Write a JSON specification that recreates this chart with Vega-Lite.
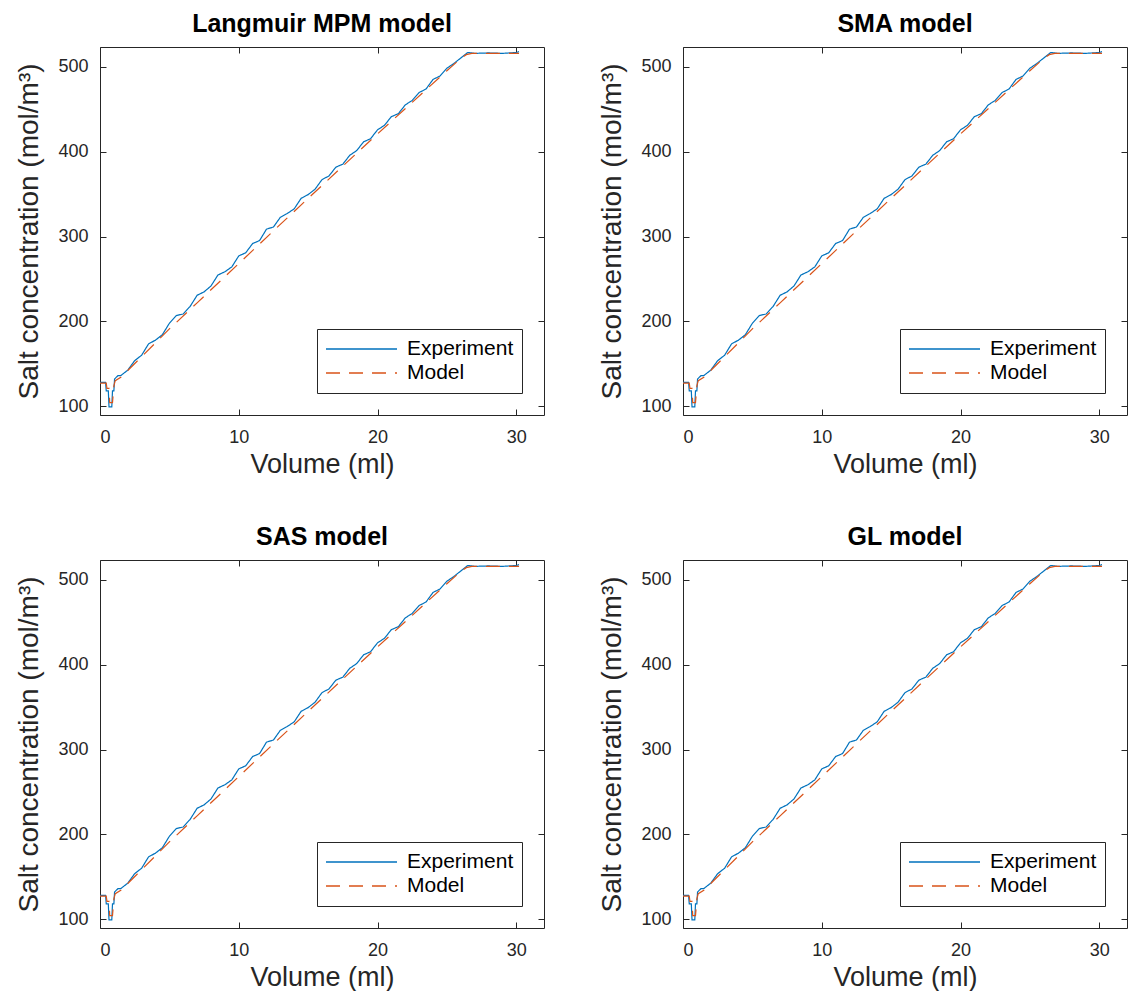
{
  "$schema": "https://vega.github.io/schema/vega-lite/v6.json",
  "padding": {"left": 15, "top": 11, "right": 0, "bottom": 0},
  "background": "white",
  "datasets": {
    "d": [
      {"v": 0, "c": 128, "s": "Experiment"},
      {"v": 0.4, "c": 128, "s": "Experiment"},
      {"v": 0.45, "c": 118, "s": "Experiment"},
      {"v": 0.6, "c": 118, "s": "Experiment"},
      {"v": 0.65, "c": 99, "s": "Experiment"},
      {"v": 0.85, "c": 99, "s": "Experiment"},
      {"v": 0.9, "c": 118, "s": "Experiment"},
      {"v": 1.0, "c": 118, "s": "Experiment"},
      {"v": 1.05, "c": 132, "s": "Experiment"},
      {"v": 1.3, "c": 136, "s": "Experiment"},
      {"v": 1.5, "c": 136, "s": "Experiment"},
      {"v": 2.0, "c": 142.4, "s": "Experiment"},
      {"v": 2.5, "c": 153.6, "s": "Experiment"},
      {"v": 3.0, "c": 160, "s": "Experiment"},
      {"v": 3.5, "c": 173.4, "s": "Experiment"},
      {"v": 4.0, "c": 177.8, "s": "Experiment"},
      {"v": 4.5, "c": 184.3, "s": "Experiment"},
      {"v": 5.0, "c": 197.7, "s": "Experiment"},
      {"v": 5.5, "c": 206.7, "s": "Experiment"},
      {"v": 6.0, "c": 208.7, "s": "Experiment"},
      {"v": 6.5, "c": 217.7, "s": "Experiment"},
      {"v": 7.0, "c": 230.7, "s": "Experiment"},
      {"v": 7.5, "c": 234.7, "s": "Experiment"},
      {"v": 8.0, "c": 241.7, "s": "Experiment"},
      {"v": 8.5, "c": 254.6, "s": "Experiment"},
      {"v": 9.0, "c": 258.4, "s": "Experiment"},
      {"v": 9.5, "c": 264.2, "s": "Experiment"},
      {"v": 10.0, "c": 277.1, "s": "Experiment"},
      {"v": 10.5, "c": 280.8, "s": "Experiment"},
      {"v": 11.0, "c": 291.7, "s": "Experiment"},
      {"v": 11.5, "c": 295.2, "s": "Experiment"},
      {"v": 12.0, "c": 308.7, "s": "Experiment"},
      {"v": 12.5, "c": 311.2, "s": "Experiment"},
      {"v": 13.0, "c": 322.7, "s": "Experiment"},
      {"v": 13.5, "c": 327.2, "s": "Experiment"},
      {"v": 14.0, "c": 332.7, "s": "Experiment"},
      {"v": 14.5, "c": 345.1, "s": "Experiment"},
      {"v": 15.0, "c": 349.4, "s": "Experiment"},
      {"v": 15.5, "c": 355.8, "s": "Experiment"},
      {"v": 16.0, "c": 367.1, "s": "Experiment"},
      {"v": 16.5, "c": 371.4, "s": "Experiment"},
      {"v": 17.0, "c": 381.8, "s": "Experiment"},
      {"v": 17.5, "c": 385.3, "s": "Experiment"},
      {"v": 18.0, "c": 395.8, "s": "Experiment"},
      {"v": 18.5, "c": 401.3, "s": "Experiment"},
      {"v": 19.0, "c": 411.7, "s": "Experiment"},
      {"v": 19.5, "c": 415.3, "s": "Experiment"},
      {"v": 20.0, "c": 425.8, "s": "Experiment"},
      {"v": 20.5, "c": 431.1, "s": "Experiment"},
      {"v": 21.0, "c": 441.4, "s": "Experiment"},
      {"v": 21.5, "c": 444.8, "s": "Experiment"},
      {"v": 22.0, "c": 455.2, "s": "Experiment"},
      {"v": 22.5, "c": 460.5, "s": "Experiment"},
      {"v": 23.0, "c": 469.8, "s": "Experiment"},
      {"v": 23.5, "c": 474.0, "s": "Experiment"},
      {"v": 24.0, "c": 485.2, "s": "Experiment"},
      {"v": 24.5, "c": 489.3, "s": "Experiment"},
      {"v": 25.0, "c": 498.5, "s": "Experiment"},
      {"v": 25.5, "c": 504.0, "s": "Experiment"},
      {"v": 26.0, "c": 510.5, "s": "Experiment"},
      {"v": 26.3, "c": 514.4, "s": "Experiment"},
      {"v": 26.5, "c": 517, "s": "Experiment"},
      {"v": 27.0, "c": 516, "s": "Experiment"},
      {"v": 28.0, "c": 516.5, "s": "Experiment"},
      {"v": 29.0, "c": 516, "s": "Experiment"},
      {"v": 30.0, "c": 517, "s": "Experiment"},
      {"v": 30.2, "c": 518, "s": "Experiment"},
      {"v": 0, "c": 127, "s": "Model"},
      {"v": 0.45, "c": 127, "s": "Model"},
      {"v": 0.5, "c": 121, "s": "Model"},
      {"v": 0.65, "c": 121, "s": "Model"},
      {"v": 0.7, "c": 104, "s": "Model"},
      {"v": 0.9, "c": 104, "s": "Model"},
      {"v": 1.0, "c": 124, "s": "Model"},
      {"v": 1.1, "c": 130, "s": "Model"},
      {"v": 1.5, "c": 134, "s": "Model"},
      {"v": 2.0, "c": 142, "s": "Model"},
      {"v": 3.0, "c": 158.3, "s": "Model"},
      {"v": 5.0, "c": 191, "s": "Model"},
      {"v": 7.0, "c": 221.8, "s": "Model"},
      {"v": 10.0, "c": 268, "s": "Model"},
      {"v": 12.5, "c": 306.7, "s": "Model"},
      {"v": 15.0, "c": 345, "s": "Model"},
      {"v": 17.5, "c": 383, "s": "Model"},
      {"v": 20.0, "c": 421, "s": "Model"},
      {"v": 22.5, "c": 458.2, "s": "Model"},
      {"v": 25.0, "c": 495.5, "s": "Model"},
      {"v": 26.0, "c": 510, "s": "Model"},
      {"v": 26.4, "c": 514.5, "s": "Model"},
      {"v": 26.8, "c": 516, "s": "Model"},
      {"v": 28.0, "c": 516, "s": "Model"},
      {"v": 30.2, "c": 516, "s": "Model"}
    ]
  },
  "config": {
    "font": "Liberation Sans",
    "view": {"stroke": "#262626", "strokeWidth": 1},
    "axis": {
      "domain": false, "grid": false,
      "ticks": true, "tickSize": -6, "tickColor": "#262626", "tickWidth": 1,
      "labelFont": "Liberation Sans", "labelFontSize": 18, "labelColor": "#262626",
      "titleFont": "Liberation Sans", "titleFontWeight": "normal", "titleColor": "#262626"
    },
    "axisX": {"labelPadding": 19, "titlePadding": 5, "titleFontSize": 27},
    "axisY": {"labelPadding": 18, "titlePadding": 14, "titleFontSize": 28},
    "title": {"font": "Liberation Sans", "fontSize": 25, "fontWeight": "bold", "color": "#000000", "anchor": "middle", "offset": 10},
    "legend": {
      "orient": "bottom-right", "offset": 22, "padding": 8,
      "strokeColor": "#262626", "fillColor": "white",
      "symbolType": "stroke", "symbolSize": 5041, "symbolStrokeWidth": 1.3,
      "labelFont": "Liberation Sans", "labelFontSize": 21, "labelColor": "#000000",
      "labelOffset": 9, "clipHeight": 24, "rowPadding": 0
    }
  },
  "spacing": 46,
  "vconcat": [
    {
      "spacing": 53,
      "resolve": {"scale": {"color": "independent", "strokeDash": "independent"}, "legend": {"color": "independent", "strokeDash": "independent"}},
      "hconcat": [
        {
          "title": "Langmuir MPM model", "width": 444, "height": 368, "data": {"name": "d"},
          "layer": [
            {"mark": {"type": "line", "strokeWidth": 1.2},
             "encoding": {
               "x": {"field": "v", "type": "quantitative", "scale": {"domain": [0, 32], "nice": false, "zero": false}, "axis": {"title": "Volume (ml)", "values": [0, 10, 20, 30]}},
               "y": {"field": "c", "type": "quantitative", "scale": {"domain": [89.5, 523.5], "nice": false, "zero": false}, "axis": {"title": "Salt concentration (mol/m³)", "values": [100, 200, 300, 400, 500]}},
               "color": {"field": "s", "type": "nominal", "scale": {"domain": ["Experiment", "Model"], "range": ["#0072BD", "#D95319"]}, "legend": {"title": null, "orient": "bottom-right"}},
               "strokeDash": {"field": "s", "type": "nominal", "scale": {"domain": ["Experiment", "Model"], "range": [[1, 0], [14, 9]]}, "legend": {"title": null, "orient": "bottom-right"}}
             }},
            {"mark": {"type": "point", "opacity": 0},
             "encoding": {
               "x": {"field": "v", "type": "quantitative", "axis": {"orient": "top", "labels": false, "title": null, "values": [0, 10, 20, 30]}},
               "y": {"field": "c", "type": "quantitative", "axis": {"orient": "right", "labels": false, "title": null, "values": [100, 200, 300, 400, 500]}}
             }}
          ],
          "resolve": {"axis": {"x": "independent", "y": "independent"}}
        },
        {
          "title": "SMA model", "width": 444, "height": 368, "data": {"name": "d"},
          "layer": [
            {"mark": {"type": "line", "strokeWidth": 1.2},
             "encoding": {
               "x": {"field": "v", "type": "quantitative", "scale": {"domain": [0, 32], "nice": false, "zero": false}, "axis": {"title": "Volume (ml)", "values": [0, 10, 20, 30]}},
               "y": {"field": "c", "type": "quantitative", "scale": {"domain": [89.5, 523.5], "nice": false, "zero": false}, "axis": {"title": "Salt concentration (mol/m³)", "values": [100, 200, 300, 400, 500]}},
               "color": {"field": "s", "type": "nominal", "scale": {"domain": ["Experiment", "Model"], "range": ["#0072BD", "#D95319"]}, "legend": {"title": null, "orient": "bottom-right"}},
               "strokeDash": {"field": "s", "type": "nominal", "scale": {"domain": ["Experiment", "Model"], "range": [[1, 0], [14, 9]]}, "legend": {"title": null, "orient": "bottom-right"}}
             }},
            {"mark": {"type": "point", "opacity": 0},
             "encoding": {
               "x": {"field": "v", "type": "quantitative", "axis": {"orient": "top", "labels": false, "title": null, "values": [0, 10, 20, 30]}},
               "y": {"field": "c", "type": "quantitative", "axis": {"orient": "right", "labels": false, "title": null, "values": [100, 200, 300, 400, 500]}}
             }}
          ],
          "resolve": {"axis": {"x": "independent", "y": "independent"}}
        }
      ]
    },
    {
      "spacing": 53,
      "resolve": {"scale": {"color": "independent", "strokeDash": "independent"}, "legend": {"color": "independent", "strokeDash": "independent"}},
      "hconcat": [
        {
          "title": "SAS model", "width": 444, "height": 368, "data": {"name": "d"},
          "layer": [
            {"mark": {"type": "line", "strokeWidth": 1.2},
             "encoding": {
               "x": {"field": "v", "type": "quantitative", "scale": {"domain": [0, 32], "nice": false, "zero": false}, "axis": {"title": "Volume (ml)", "values": [0, 10, 20, 30]}},
               "y": {"field": "c", "type": "quantitative", "scale": {"domain": [89.5, 523.5], "nice": false, "zero": false}, "axis": {"title": "Salt concentration (mol/m³)", "values": [100, 200, 300, 400, 500]}},
               "color": {"field": "s", "type": "nominal", "scale": {"domain": ["Experiment", "Model"], "range": ["#0072BD", "#D95319"]}, "legend": {"title": null, "orient": "bottom-right"}},
               "strokeDash": {"field": "s", "type": "nominal", "scale": {"domain": ["Experiment", "Model"], "range": [[1, 0], [14, 9]]}, "legend": {"title": null, "orient": "bottom-right"}}
             }},
            {"mark": {"type": "point", "opacity": 0},
             "encoding": {
               "x": {"field": "v", "type": "quantitative", "axis": {"orient": "top", "labels": false, "title": null, "values": [0, 10, 20, 30]}},
               "y": {"field": "c", "type": "quantitative", "axis": {"orient": "right", "labels": false, "title": null, "values": [100, 200, 300, 400, 500]}}
             }}
          ],
          "resolve": {"axis": {"x": "independent", "y": "independent"}}
        },
        {
          "title": "GL model", "width": 444, "height": 368, "data": {"name": "d"},
          "layer": [
            {"mark": {"type": "line", "strokeWidth": 1.2},
             "encoding": {
               "x": {"field": "v", "type": "quantitative", "scale": {"domain": [0, 32], "nice": false, "zero": false}, "axis": {"title": "Volume (ml)", "values": [0, 10, 20, 30]}},
               "y": {"field": "c", "type": "quantitative", "scale": {"domain": [89.5, 523.5], "nice": false, "zero": false}, "axis": {"title": "Salt concentration (mol/m³)", "values": [100, 200, 300, 400, 500]}},
               "color": {"field": "s", "type": "nominal", "scale": {"domain": ["Experiment", "Model"], "range": ["#0072BD", "#D95319"]}, "legend": {"title": null, "orient": "bottom-right"}},
               "strokeDash": {"field": "s", "type": "nominal", "scale": {"domain": ["Experiment", "Model"], "range": [[1, 0], [14, 9]]}, "legend": {"title": null, "orient": "bottom-right"}}
             }},
            {"mark": {"type": "point", "opacity": 0},
             "encoding": {
               "x": {"field": "v", "type": "quantitative", "axis": {"orient": "top", "labels": false, "title": null, "values": [0, 10, 20, 30]}},
               "y": {"field": "c", "type": "quantitative", "axis": {"orient": "right", "labels": false, "title": null, "values": [100, 200, 300, 400, 500]}}
             }}
          ],
          "resolve": {"axis": {"x": "independent", "y": "independent"}}
        }
      ]
    }
  ],
  "resolve": {"scale": {"color": "independent", "strokeDash": "independent"}, "legend": {"color": "independent", "strokeDash": "independent"}}
}
